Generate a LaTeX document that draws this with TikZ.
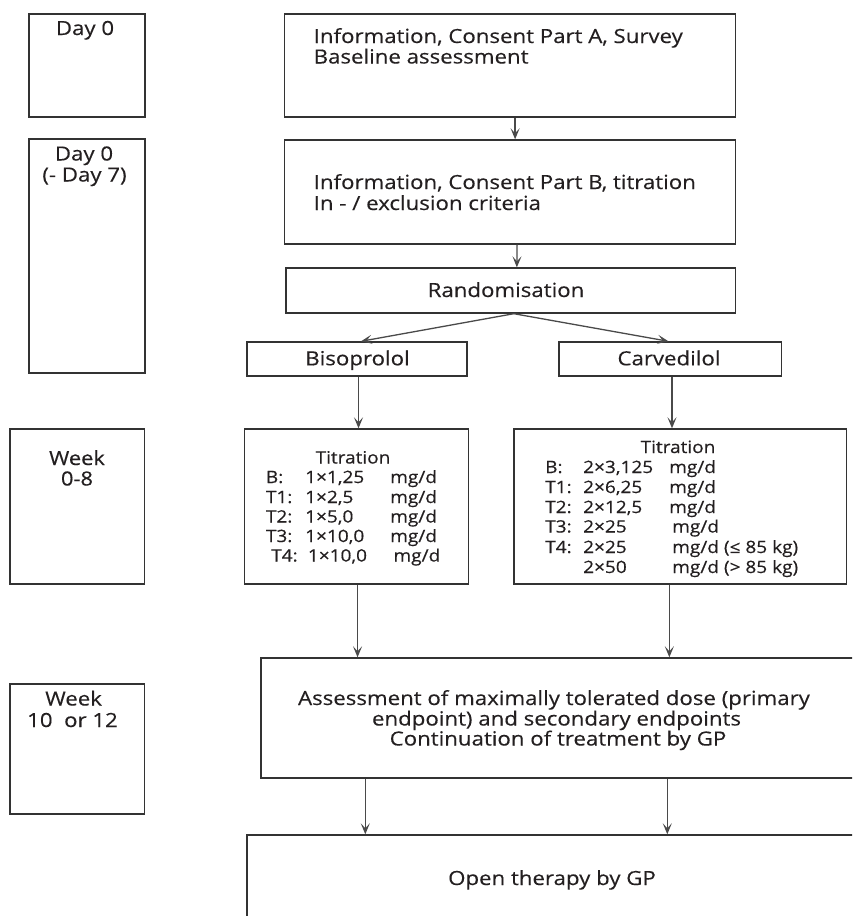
\documentclass[tikz,border=0pt]{standalone}
\usepackage{fontspec}
\setmainfont[FakeStretch=1.14,FakeBold=0.3]{Open Sans}
\newfontfamily\tfont[FakeStretch=1.12,FakeBold=0.4]{Open Sans}
\usetikzlibrary{arrows.meta,calc}
\definecolor{boxc}{HTML}{333333}
\definecolor{arrc}{HTML}{4A4A4A}
\definecolor{txt}{HTML}{231F20}
\tikzset{
  bx/.style={draw=boxc, line width=1.4pt, inner sep=0pt},
  arr/.style={draw=arrc, line width=1.3pt, -{Stealth[length=11pt,width=9pt,inset=5pt]}},
  tx/.style={inner sep=0pt, text=txt, font=\fontsize{19.5}{21}\selectfont},
  ttx/.style={inner sep=0pt, text=txt, font=\tfont\fontsize{17}{19.8}\selectfont},
  wtx/.style={inner sep=0pt, text=txt, font=\tfont\fontsize{19.5}{21}\selectfont},
}
\begin{document}
\begin{tikzpicture}[x=1pt,y=-1pt]
\useasboundingbox (0,0) rectangle (852,916);
\fill[white] (0,0) rectangle (852,916);
\clip (0,0) rectangle (852,916);
% left time boxes
\node[bx, minimum width=116pt, minimum height=103pt] (d0) at (87,65.5) {};
\node[bx, minimum width=116pt, minimum height=234pt] (d07) at (87,256) {};
\node[bx, minimum width=134.6pt, minimum height=155pt] (w08) at (77.3,506.5) {};
\node[bx, minimum width=134.6pt, minimum height=130pt] (w1012) at (77.3,749) {};
\node[tx, anchor=base] (d0t) at (85,35) {Day 0};
\node[tx, anchor=base] (d07a) at (84,160.5) {Day 0};
\node[tx, anchor=base] (d07b) at (84.5,181.5) {(- Day 7)};
\node[wtx, anchor=base] (w08a) at (77,465) {Week};
\node[wtx, anchor=base] (w08b) at (77,485.5) {0-8};
\node[tx, anchor=base] (w12a) at (73.6,705.5) {Week};
\node[tx, anchor=base] (w12b) at (72.5,727) {10~ or 12};
% main flow boxes
\node[bx, minimum width=451.2pt, minimum height=103pt] (infoA) at (510.1,65.5) {};
\node[bx, minimum width=451.2pt, minimum height=104pt] (infoB) at (510.1,192) {};
\node[bx, minimum width=449.7pt, minimum height=45pt] (rand) at (510.85,290.5) {};
\node[bx, minimum width=220pt, minimum height=34pt] (biso) at (357,359) {};
\node[bx, minimum width=222.5pt, minimum height=34pt] (carv) at (670.25,359) {};
\node[bx, minimum width=223.9pt, minimum height=155pt] (titL) at (356.55,506.5) {};
\node[bx, minimum width=332.7pt, minimum height=155pt] (titR) at (680.35,506.5) {};
\node[bx, minimum width=609pt, minimum height=120pt] (assess) at (565.5,718) {};
\node[bx, minimum width=623pt, minimum height=115pt] (open) at (558.5,892.5) {};
% texts
\node[tx, anchor=base west] (tA1) at (313.5,43) {Information, Consent Part A, Survey};
\node[tx, anchor=base west] (tA2) at (313.5,63.5) {Baseline assessment};
\node[tx, anchor=base west] (tB1) at (313.5,189) {Information, Consent Part B, titration};
\node[tx, anchor=base west] (tB2) at (313.5,210) {In - / exclusion criteria};
\node[tx, anchor=base] (tR) at (506,297) {Randomisation};
\node[tx, anchor=base] (tBi) at (357.5,365.3) {Bisoprolol};
\node[tx, anchor=base] (tCa) at (669,365.3) {Carvedilol};
\node[ttx, anchor=base] (tLh) at (353,463.5) {Titration};
\node[ttx, anchor=base west] (tL1) at (265.7,483) {\makebox[39.3pt][l]{B:}\makebox[85pt][l]{1×1,25}mg/d};
\node[ttx, anchor=base west] (tL2) at (265.7,503) {\makebox[39.3pt][l]{T1:}\makebox[85pt][l]{1×2,5}mg/d};
\node[ttx, anchor=base west] (tL3) at (265.7,522.5) {\makebox[39.3pt][l]{T2:}\makebox[85pt][l]{1×5,0}mg/d};
\node[ttx, anchor=base west] (tL4) at (265.7,542) {\makebox[39.3pt][l]{T3:}\makebox[85pt][l]{1×10,0}mg/d};
\node[ttx, anchor=base west] (tL5) at (271,561.5) {\makebox[36.7pt][l]{T4:}\makebox[85.6pt][l]{1×10,0}mg/d};
\node[ttx, anchor=base] (tRh) at (678,453) {Titration};
\node[ttx, anchor=base west] (tR1) at (545,473) {\makebox[38pt][l]{B:}\makebox[86pt][l]{2×3,125}mg/d};
\node[ttx, anchor=base west] (tR2) at (545,493) {\makebox[38pt][l]{T1:}\makebox[86pt][l]{2×6,25}mg/d};
\node[ttx, anchor=base west] (tR3) at (545,513) {\makebox[38pt][l]{T2:}\makebox[86pt][l]{2×12,5}mg/d};
\node[ttx, anchor=base west] (tR4) at (545,532.5) {\makebox[38pt][l]{T3:}\makebox[89pt][l]{2×25}mg/d};
\node[ttx, anchor=base west] (tR5) at (545,553) {\makebox[38pt][l]{T4:}\makebox[89pt][l]{2×25}mg/d (≤ 85 kg)};
\node[ttx, anchor=base west] (tR6) at (545,573) {\makebox[38pt][l]{}\makebox[89pt][l]{2×50}mg/d (> 85 kg)};
\node[tx, anchor=base] (tS1) at (554,705) {Assessment of maximally tolerated dose (primary};
\node[tx, anchor=base] (tS2) at (556.5,725.5) {endpoint) and secondary endpoints};
\node[tx, anchor=base] (tS3) at (558,745.5) {Continuation of treatment by GP};
\node[tx, anchor=base] (tO) at (552,885) {Open therapy by GP};
% connectors
\draw[arr] ([xshift=5pt]infoA.south) -- ([xshift=5pt]infoB.north);
\draw[arr] ([xshift=7pt]infoB.south) -- ([xshift=6pt]rand.north);
\draw[arr] ([xshift=3pt]rand.south) -- ([xshift=4pt]biso.north);
\draw[arr] ([xshift=3pt]rand.south) -- ([xshift=-1.75pt]carv.north);
\draw[arr] ([xshift=1.5pt]biso.south) -- ([xshift=1.5pt]biso.south |- titL.north);
\draw[arr] ([xshift=1.75pt]carv.south) -- ([xshift=1.75pt]carv.south |- titR.north);
\draw[arr] ([xshift=1pt]titL.south) -- ([xshift=1pt]titL.south |- assess.north);
\draw[arr] ([xshift=-11pt]titR.south) -- ([xshift=-11pt]titR.south |- assess.north);
\draw[arr] ([xshift=105pt]assess.south west) -- ([xshift=105pt]assess.south west |- open.north);
\draw[arr] ([xshift=407pt]assess.south west) -- ([xshift=407pt]assess.south west |- open.north);
\end{tikzpicture}
\end{document}
